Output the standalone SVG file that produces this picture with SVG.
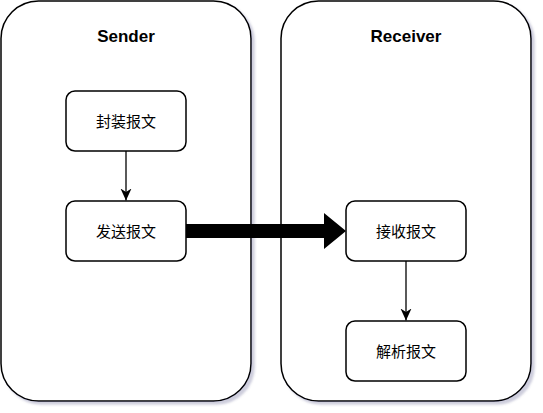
<svg xmlns="http://www.w3.org/2000/svg" width="543" height="413" viewBox="0 0 543 413">
  <style>
    .container { fill: #ffffff; stroke: #000000; stroke-width: 1.5; }
    .node { fill: #ffffff; stroke: #000000; stroke-width: 1.5; }
    .title { font-family: "Liberation Sans", Arial, sans-serif; font-weight: bold; font-size: 17px; fill: #000000; text-anchor: middle; }
    .label { font-family: "Liberation Sans", "Noto Sans CJK SC", sans-serif; font-size: 15px; fill: #000000; text-anchor: middle; }
    .edge { stroke: #000000; stroke-width: 1.3; fill: none; }
  </style>
  <defs>
    <filter id="shadow" x="-5%" y="-5%" width="115%" height="115%">
      <feGaussianBlur in="SourceAlpha" stdDeviation="1.2"/>
      <feOffset dx="3" dy="3" result="b"/>
      <feFlood flood-color="#5a5a8c" flood-opacity="0.3"/>
      <feComposite in2="b" operator="in"/>
      <feMerge>
        <feMergeNode/>
        <feMergeNode in="SourceGraphic"/>
      </feMerge>
    </filter>
    <marker id="arrow" markerWidth="14" markerHeight="14" refX="12" refY="6" orient="auto" markerUnits="userSpaceOnUse">
      <path d="M0,0.5 L12,6 L0,11.5 L3.5,6 Z" fill="#000000"/>
    </marker>
  </defs>

  <g id="sender">
    <rect class="container" x="1" y="1" width="250" height="400" rx="37.5" ry="37.5" filter="url(#shadow)"/>
    <text class="title" x="126" y="42">Sender</text>
  </g>
  <g id="receiver">
    <rect class="container" x="281" y="1" width="250" height="400" rx="37.5" ry="37.5" filter="url(#shadow)"/>
    <text class="title" x="406" y="42">Receiver</text>
  </g>

  <g id="node-pack">
    <rect class="node" x="66" y="91" width="120" height="60" rx="9" ry="9"/>
    <text class="label" x="126" y="126.5">封装报文</text>
  </g>
  <g id="node-send">
    <rect class="node" x="66" y="201" width="120" height="60" rx="9" ry="9"/>
    <text class="label" x="126" y="236.5">发送报文</text>
  </g>
  <g id="node-recv">
    <rect class="node" x="346" y="201" width="120" height="60" rx="9" ry="9"/>
    <text class="label" x="406" y="236.5">接收报文</text>
  </g>
  <g id="node-parse">
    <rect class="node" x="346" y="321" width="120" height="60" rx="9" ry="9"/>
    <text class="label" x="406" y="356.5">解析报文</text>
  </g>

  <g id="connectors">
    <line class="edge" x1="126" y1="151" x2="126" y2="200.5" marker-end="url(#arrow)"/>
    <line class="edge" x1="406" y1="261" x2="406" y2="320.5" marker-end="url(#arrow)"/>
    <path d="M186,224 L324,224 L324,213 L346,231 L324,249 L324,238 L186,238 Z" fill="#000000"/>
  </g>
</svg>
